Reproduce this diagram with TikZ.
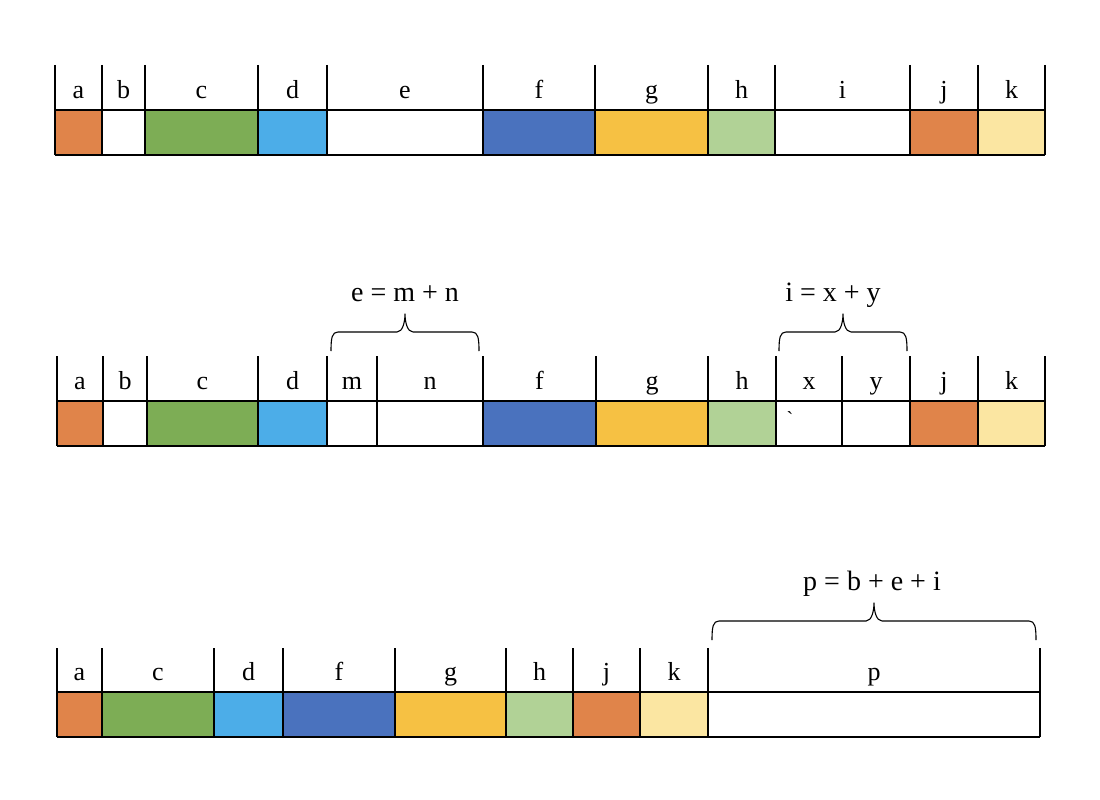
\documentclass[tikz,border=0pt]{standalone}
\usepackage{fontspec}
\setmainfont{Liberation Serif}
\usetikzlibrary{calc}
\definecolor{corange}{HTML}{E0844A}
\definecolor{cgreen}{HTML}{7DAD55}
\definecolor{cskyblue}{HTML}{4CADE8}
\definecolor{cblue}{HTML}{4A72BE}
\definecolor{cyellow}{HTML}{F6C143}
\definecolor{clightgreen}{HTML}{B1D296}
\definecolor{clightyellow}{HTML}{FBE6A2}
\tikzset{
  cellline/.style={line width=1.4pt, black},
  cellname/.style={font=\fontsize{26}{30}\selectfont, inner sep=0pt, anchor=base},
  bracepath/.style={line width=1.1pt, black},
  sumlabel/.style={font=\fontsize{28}{32}\selectfont, inner sep=0pt, anchor=base}
}
% curly brace over the span from #1 to #2, tip coordinate named #3
\newcommand\spanbrace[3]{%
  \coordinate (#3) at ($(#1)!0.5!(#2)+(0,-37)$);
  \draw[bracepath] (#1) .. controls +(0,-13) and +(-6,0) .. ($(#1)+(7,-19)$)
    -- ($(#3)+(-8,18)$) .. controls +(6,0) and +(0,7) .. (#3)
    .. controls +(0,7) and +(-6,0) .. ($(#3)+(8,18)$)
    -- ($(#2)+(-7,-19)$) .. controls +(6,0) and +(0,-13) .. (#2);
}
\begin{document}
\begin{tikzpicture}[x=1pt, y=-1pt, line join=round]
  \useasboundingbox[fill=white] (0,0) rectangle (1100,800);
  % row 1
  \foreach \xl/\xr/\lab/\col in {55/102/a/corange, 102/145/b/white, 145/258/c/cgreen, 258/327/d/cskyblue,
      327/483/e/white, 483/595/f/cblue, 595/708/g/cyellow, 708/775/h/clightgreen, 775/910/i/white,
      910/978/j/corange, 978/1045/k/clightyellow} {
    \fill[\col] (\xl,110) rectangle (\xr,155);
    \draw[cellline] (\xl,65) -- (\xl,155);
    \node[cellname] (r1\lab) at ({(\xl+\xr)/2},98) {\lab};
  }
  \draw[cellline] (1045,65) -- (1045,155);
  \draw[cellline] (55,110) -- (1045,110) (55,155) -- (1045,155);
  % row 2
  \foreach \xl/\xr/\lab/\col in {57/103/a/corange, 103/147/b/white, 147/258/c/cgreen, 258/327/d/cskyblue,
      327/377/m/white, 377/483/n/white, 483/596/f/cblue, 596/708/g/cyellow, 708/776/h/clightgreen,
      776/842/x/white, 842/910/y/white, 910/978/j/corange, 978/1045/k/clightyellow} {
    \fill[\col] (\xl,401) rectangle (\xr,446);
    \draw[cellline] (\xl,356) -- (\xl,446);
    \node[cellname] (r2\lab) at ({(\xl+\xr)/2},389) {\lab};
  }
  \draw[cellline] (1045,356) -- (1045,446);
  \draw[cellline] (57,401) -- (1045,401) (57,446) -- (1045,446);
  \node[font=\fontsize{20}{24}\selectfont, inner sep=0pt] (tick) at (790,419) {\textasciigrave};
  % row 3
  \foreach \xl/\xr/\lab/\col in {57/102/a/corange, 102/214/c/cgreen, 214/283/d/cskyblue, 283/395/f/cblue,
      395/506/g/cyellow, 506/573/h/clightgreen, 573/640/j/corange, 640/708/k/clightyellow, 708/1040/p/white} {
    \fill[\col] (\xl,692) rectangle (\xr,737);
    \draw[cellline] (\xl,648) -- (\xl,737);
    \node[cellname] (r3\lab) at ({(\xl+\xr)/2},680) {\lab};
  }
  \draw[cellline] (1040,648) -- (1040,737);
  \draw[cellline] (57,692) -- (1040,692) (57,737) -- (1040,737);
  % braces
  \coordinate (em) at (331,351);
  \coordinate (en) at (479,351);
  \coordinate (ix) at (779,351);
  \coordinate (iy) at (907,351);
  \coordinate (pl) at (712,640);
  \coordinate (pr) at (1036,640);
  \spanbrace{em}{en}{etip}
  \spanbrace{ix}{iy}{itip}
  \spanbrace{pl}{pr}{ptip}
  \node[sumlabel] (esum) at ($(etip)+(0,-13)$) {e = m + n};
  \node[sumlabel] (isum) at ($(itip)+(-10,-13)$) {i = x + y};
  \node[sumlabel] (psum) at ($(ptip)+(-2,-13)$) {p = b + e + i};
\end{tikzpicture}
\end{document}
